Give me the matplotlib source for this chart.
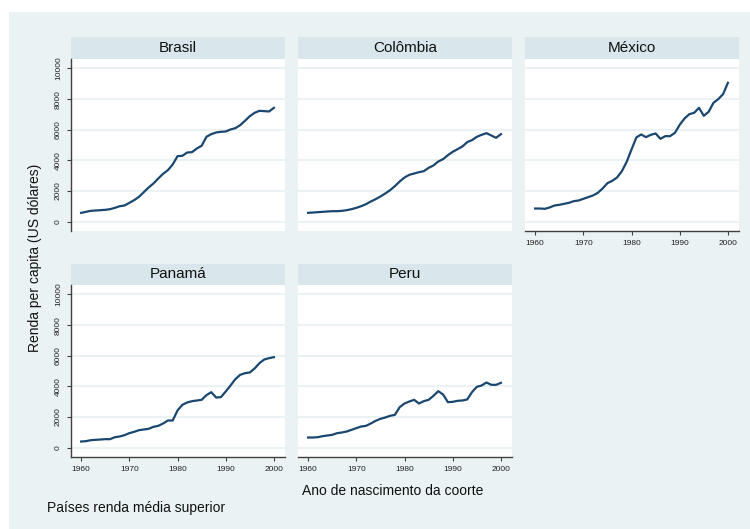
import matplotlib.pyplot as plt
from matplotlib.patches import Rectangle

plt.rcParams['font.family'] = ['Liberation Sans', 'DejaVu Sans']

years = list(range(1960, 2001))

brasil = [566, 632, 697, 719, 741, 763, 806, 893, 1000, 1046,
          1220, 1395, 1612, 1918, 2222, 2484, 2811, 3116, 3356, 3726,
          4271, 4293, 4510, 4532, 4772, 4946, 5535, 5709, 5818, 5862,
          5883, 6014, 6101, 6297, 6581, 6886, 7104, 7234, 7212, 7191,
          7430]
colombia = [566, 588, 610, 632, 654, 675, 675, 697, 741, 806,
            893, 1000, 1133, 1307, 1460, 1634, 1830, 2048, 2310, 2615,
            2876, 3051, 3138, 3225, 3290, 3508, 3661, 3922, 4075, 4336,
            4554, 4728, 4903, 5186, 5320, 5535, 5665, 5775, 5622, 5469,
            5709]
mexico = [850, 850, 828, 915, 1046, 1090, 1155, 1220, 1329, 1373,
          1482, 1591, 1700, 1874, 2157, 2506, 2658, 2876, 3290, 3900,
          4707, 5491, 5687, 5513, 5666, 5753, 5404, 5578, 5578, 5796,
          6319, 6733, 7016, 7103, 7430, 6907, 7169, 7757, 7997, 8324,
          9065]
panama = [392, 414, 479, 501, 523, 545, 545, 675, 719, 806,
          937, 1024, 1133, 1177, 1220, 1351, 1416, 1569, 1765, 1765,
          2419, 2789, 2942, 3029, 3072, 3116, 3421, 3617, 3269, 3290,
          3661, 4053, 4467, 4750, 4859, 4903, 5164, 5513, 5753, 5840,
          5905]
peru = [654, 654, 675, 741, 784, 828, 937, 980, 1046, 1155,
        1264, 1373, 1416, 1569, 1743, 1874, 1961, 2070, 2135, 2637,
        2876, 3007, 3116, 2876, 3029, 3116, 3377, 3683, 3465, 2963,
        2985, 3051, 3072, 3138, 3617, 3966, 4053, 4249, 4097, 4097,
        4227]

countries = ['Brasil', 'Colômbia', 'México', 'Panamá', 'Peru']
series = [brasil, colombia, mexico, panama, peru]
yticks = [0, 2000, 4000, 6000, 8000, 10000]
xticks = [1960, 1970, 1980, 1990, 2000]

W, H = 750, 529
BG = '#EAF2F3'
STRIP = '#D9E6EB'
LINE = '#1A476F'
AXC = '#404040'


def rect(x0, y0, x1, y1):
    return [x0 / W, 1 - y1 / H, (x1 - x0) / W, (y1 - y0) / H]


fig = plt.figure(figsize=(W / 100, H / 100), dpi=100)
fig.patches.append(Rectangle((9 / W, 0), 1 - 9 / W, 1 - 12 / H,
                             transform=fig.transFigure, facecolor=BG,
                             edgecolor='none', zorder=-10))

cols = [(71, 285), (298, 512), (525, 739)]
rows = [((37, 59), (59, 231)), ((264, 285), (285, 457))]
# which panels show axes
show_y = [True, False, False, True, False]
show_x = [False, False, True, True, True]

for i, (name, vals) in enumerate(zip(countries, series)):
    r, c = divmod(i, 3)
    x0, x1 = cols[c]
    (h0, h1), (p0, p1) = rows[r]

    hax = fig.add_axes(rect(x0, h0, x1, h1))
    hax.set_facecolor(STRIP)
    hax.set_xticks([])
    hax.set_yticks([])
    for s in hax.spines.values():
        s.set_visible(False)
    hax.text(0.5, 0.5, name, ha='center', va='center', fontsize=11,
             color='#111111', transform=hax.transAxes)

    ax = fig.add_axes(rect(x0, p0, x1, p1))
    ax.set_facecolor('white')
    for yv in yticks:
        ax.axhline(yv, color=BG, lw=1.4, zorder=1)
    ax.plot(years, vals, color=LINE, lw=1.6, zorder=3)
    ax.set_xlim(1957.9, 2002.3)
    ax.set_ylim(-620, 10620)
    for s in ['top', 'right']:
        ax.spines[s].set_visible(False)
    ax.spines['left'].set_visible(show_y[i])
    ax.spines['bottom'].set_visible(show_x[i])
    ax.spines['left'].set_color(AXC)
    ax.spines['bottom'].set_color(AXC)
    ax.spines['left'].set_linewidth(1.0)
    ax.spines['bottom'].set_linewidth(1.0)

    if show_y[i]:
        ax.set_yticks(yticks)
        ax.set_yticklabels([str(v) for v in yticks], rotation=90,
                           va='center', fontsize=6)
        ax.tick_params(axis='y', length=3, width=0.8, color=AXC,
                       pad=3.5, labelcolor='#222222')
    else:
        ax.set_yticks([])
    if show_x[i]:
        ax.set_xticks(xticks)
        ax.set_xticklabels([str(v) for v in xticks], fontsize=6)
        ax.tick_params(axis='x', length=3, width=0.8, color=AXC,
                       pad=3.5, labelcolor='#222222')
    else:
        ax.set_xticks([])

fig.text(35 / W, 1 - 258 / H, 'Renda per capita (US dólares)', rotation=90,
         ha='center', va='center', fontsize=10, color='#111111')
fig.text(393 / W, 1 - 491 / H, 'Ano de nascimento da coorte',
         ha='center', va='center', fontsize=10, color='#111111')
fig.text(47 / W, 1 - 508 / H, 'Países renda média superior',
         ha='left', va='center', fontsize=10, color='#111111')

fig.savefig('out.png', dpi=100)
